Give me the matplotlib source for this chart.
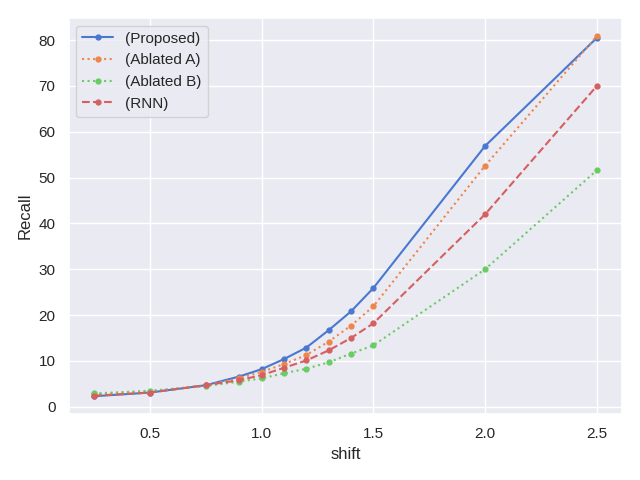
import numpy as np
import matplotlib
matplotlib.use("Agg")
import matplotlib.pyplot as plt
import seaborn as sns

sns.set_theme(style="darkgrid", palette="muted")
plt.rcParams["font.family"] = ["Liberation Sans", "DejaVu Sans"]

shift = [0.25, 0.5, 0.75, 0.9, 1.0, 1.1, 1.2, 1.3, 1.4, 1.5, 2.0, 2.5]
proposed = [2.3, 3.1, 4.7, 6.6, 8.2, 10.4, 12.9, 16.7, 20.8, 25.9, 56.9, 80.5]
ablated_a = [2.7, 3.3, 4.7, 6.2, 7.6, 9.3, 11.3, 14.2, 17.7, 21.9, 52.6, 80.9]
ablated_b = [2.9, 3.5, 4.5, 5.5, 6.2, 7.3, 8.3, 9.7, 11.6, 13.4, 30.0, 51.6]
rnn = [2.4, 3.1, 4.7, 5.8, 6.9, 8.5, 10.1, 12.3, 15.0, 18.2, 42.0, 70.0]

series = [
    ("(Proposed)", proposed, "-"),
    ("(Ablated A)", ablated_a, ":"),
    ("(Ablated B)", ablated_b, ":"),
    ("(RNN)", rnn, "--"),
]

fig, ax = plt.subplots(figsize=(6.4, 4.8), dpi=100)
colors = sns.color_palette("muted")
for i, (label, vals, ls) in enumerate(series):
    ax.plot(shift, vals, linestyle=ls, marker="o", markersize=3.5,
            color=colors[i], label=label)

ax.set_xlabel("shift")
ax.set_ylabel("Recall")
ax.legend(loc="upper left")
fig.tight_layout()
fig.savefig("out.png")
plt.close(fig)
